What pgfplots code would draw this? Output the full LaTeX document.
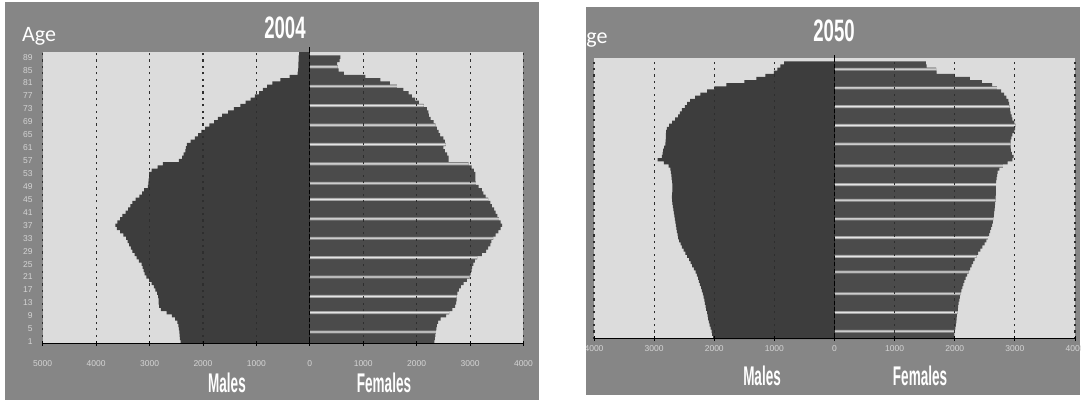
\documentclass[border=0pt]{standalone}
\usepackage{pgfplots}
\pgfplotsset{compat=1.18}
\usepackage{pgfplotstable}
\usepackage{fontspec}
\setmainfont{Liberation Sans}
\newfontfamily\titlefont[FakeStretch=0.6]{Liberation Sans}
\newfontfamily\sexfont[FakeStretch=0.5]{Liberation Sans}
\newfontfamily\agefont{Carlito}

\definecolor{framegray}{HTML}{868686}
\definecolor{plotbg}{HTML}{DCDCDC}
\definecolor{male}{HTML}{3D3D3D}
\definecolor{female}{HTML}{4B4B4B}
\definecolor{band}{HTML}{A3A3A3}
\definecolor{bandline}{HTML}{E4E4E4}
\definecolor{ticktext}{HTML}{D4D4D4}
\definecolor{gridc}{HTML}{2E2E2E}

% Population by single year of age (thousands); m = males (negative), f = females,
% s = 1 for the rows drawn as a light band
\pgfplotstableread{
age m f s
1 -2420 2330 0
2 -2430 2340 0
3 -2435 2350 0
4 -2440 2360 1
5 -2450 2370 0
6 -2460 2380 0
7 -2480 2400 0
8 -2520 2450 0
9 -2580 2550 0
10 -2680 2610 1
11 -2790 2670 0
12 -2820 2720 0
13 -2830 2740 0
14 -2830 2750 0
15 -2840 2750 1
16 -2860 2760 0
17 -2890 2790 0
18 -2920 2830 0
19 -2960 2880 0
20 -3010 2940 0
21 -3060 2990 1
22 -3090 3010 0
23 -3110 3030 0
24 -3130 3040 0
25 -3150 3060 0
26 -3200 3090 0
27 -3240 3130 1
28 -3280 3220 0
29 -3320 3300 0
30 -3350 3340 0
31 -3380 3380 0
32 -3410 3400 0
33 -3440 3430 1
34 -3490 3480 0
35 -3550 3530 0
36 -3610 3570 0
37 -3640 3600 0
38 -3600 3570 0
39 -3550 3540 1
40 -3510 3510 0
41 -3450 3480 0
42 -3400 3450 0
43 -3360 3410 0
44 -3320 3380 0
45 -3260 3340 1
46 -3190 3290 0
47 -3140 3250 0
48 -3100 3220 0
49 -3030 3160 0
50 -3020 3110 1
51 -3015 3100 0
52 -3010 3100 0
53 -3010 3100 0
54 -2960 3070 0
55 -2850 3030 0
56 -2750 2970 1
57 -2450 2600 0
58 -2390 2600 0
59 -2360 2570 0
60 -2330 2530 0
61 -2320 2500 0
62 -2300 2540 1
63 -2230 2530 0
64 -2150 2500 0
65 -2090 2440 0
66 -2030 2410 0
67 -1960 2380 0
68 -1880 2350 1
69 -1790 2320 0
70 -1720 2260 0
71 -1640 2230 0
72 -1530 2220 0
73 -1420 2190 0
74 -1300 2130 1
75 -1200 2040 0
76 -1110 1970 0
77 -1030 1910 0
78 -950 1850 0
79 -880 1750 0
80 -800 1630 1
81 -700 1500 0
82 -550 1320 0
83 -380 1040 0
84 -230 640 0
85 -220 540 0
86 -215 520 1
87 -215 510 0
88 -210 560 0
89 -210 570 0
90 -200 0 0
}\popA

\pgfplotstableread{
age m f s
1 -2020 1990 0
2 -2035 1995 0
3 -2045 2000 1
4 -2060 2010 0
5 -2075 2020 0
6 -2090 2025 0
7 -2100 2030 0
8 -2110 2036 0
9 -2120 2043 1
10 -2135 2050 0
11 -2145 2058 0
12 -2155 2066 0
13 -2165 2075 0
14 -2175 2085 0
15 -2190 2095 1
16 -2205 2110 0
17 -2220 2125 0
18 -2240 2145 0
19 -2255 2160 0
20 -2270 2180 0
21 -2290 2205 0
22 -2310 2230 1
23 -2340 2255 0
24 -2370 2280 0
25 -2395 2305 0
26 -2420 2330 0
27 -2450 2360 1
28 -2480 2390 0
29 -2510 2425 0
30 -2540 2460 0
31 -2560 2495 0
32 -2585 2525 0
33 -2600 2550 1
34 -2610 2572 0
35 -2620 2590 0
36 -2630 2605 0
37 -2640 2622 0
38 -2645 2632 0
39 -2655 2640 1
40 -2665 2650 0
41 -2670 2656 0
42 -2680 2662 0
43 -2690 2668 0
44 -2695 2672 0
45 -2700 2678 1
46 -2705 2680 0
47 -2700 2682 0
48 -2695 2682 0
49 -2695 2682 0
50 -2695 2685 1
51 -2700 2690 0
52 -2710 2695 0
53 -2715 2705 0
54 -2720 2715 0
55 -2730 2740 0
56 -2760 2800 1
57 -2840 2880 0
58 -2940 2960 0
59 -2870 2980 0
60 -2860 2950 0
61 -2850 2935 0
62 -2835 2930 0
63 -2815 2930 1
64 -2810 2930 0
65 -2805 2940 0
66 -2805 2960 0
67 -2800 2990 0
68 -2790 3005 0
69 -2750 3010 1
70 -2700 2990 0
71 -2650 2960 0
72 -2600 2945 0
73 -2570 2930 0
74 -2540 2920 0
75 -2490 2910 1
76 -2450 2905 0
77 -2400 2890 0
78 -2320 2860 0
79 -2230 2820 0
80 -2120 2770 0
81 -2000 2700 1
82 -1800 2620 0
83 -1500 2450 0
84 -1300 2250 0
85 -1150 2000 0
86 -1010 1700 0
87 -950 1690 1
88 -900 1530 0
89 -840 1520 0
90 0 0 0
}\popB

\pgfplotsset{
  pyramid/.style={
    scale only axis,
    ymin=0.5, ymax=90.5,
    axis background/.style={fill=plotbg},
    axis x line*=bottom, axis y line*=left,
    x axis line style={black, line width=1pt},
    y axis line style={draw=none},
    xmajorgrids,
    major grid style={gridc, line width=1.1pt, dash pattern=on 2.2pt off 4.2pt},
    axis on top,
    tick align=center,
    xtick style={black, line width=0.8pt},
    major tick length=5pt,
    ytick={1,5,...,89},
    ytick style={draw=none},
    tick label style={font=\fontsize{8.5}{9}\selectfont, text=ticktext},
    /pgf/number format/assume math mode=true,
    clip=false,
  },
  males/.style={xbar, bar width=1.04, bar shift=0pt, draw=none, fill=male},
  females/.style={xbar, bar width=1.04, bar shift=0pt, draw=none, fill=female},
  % light bands: rows with s = 0 collapse to zero length
  bands/.style={xbar, bar width=0.9, bar shift=0pt, draw=none, fill=band},
  bandlines/.style={xbar, bar width=0.28, bar shift=0pt, draw=none, fill=bandline},
}

\begin{document}
\begin{tikzpicture}
\useasboundingbox (0pt,0pt) rectangle (1086pt,403pt);
\fill[white] (0pt,0pt) rectangle (1086pt,403pt);

% ---- 2004 ----
\fill[framegray] (5pt,3pt) rectangle (539pt,401pt);
\begin{axis}[pyramid,
  at={(42.7pt,59.7pt)}, anchor=south west,
  width=480.8pt, height=291pt,
  xmin=-5000, xmax=4000,
  xtick={-5000,-4000,...,4000},
  xticklabels={5000,4000,3000,2000,1000,0,1000,2000,3000,4000},
  xticklabel style={yshift=-11pt},
  yticklabel style={xshift=-4pt},
]
\addplot[males] table[x=m, y=age] {\popA};
\addplot[females] table[x=f, y=age] {\popA};
\addplot[bands] table[x expr=\thisrow{f}*\thisrow{s}, y=age] {\popA};
\addplot[bandlines] table[x expr=\thisrow{f}*\thisrow{s}, y=age] {\popA};
\draw[black, line width=0.9pt] (axis cs:0,0.5) -- (axis cs:0,92);
\end{axis}
\node[text=white, inner sep=0pt, font=\titlefont\bfseries\fontsize{31}{31}\selectfont] at (285pt,375.5pt) {2004};
\node[text=white, anchor=base west, inner sep=0pt, font=\agefont\fontsize{22}{22}\selectfont] at (22pt,361pt) {Age};
\node[text=white, inner sep=0pt, font=\sexfont\bfseries\fontsize{27}{27}\selectfont] at (227pt,20pt) {Males};
\node[text=white, inner sep=0pt, font=\sexfont\bfseries\fontsize{27}{27}\selectfont] at (384pt,20pt) {Females};

% ---- 2050 ----
\begin{scope}
\clip (586pt,8pt) rectangle (1080pt,396pt);
\fill[framegray] (586pt,8pt) rectangle (1080pt,396pt);
\begin{axis}[pyramid,
  at={(594pt,64pt)}, anchor=south west,
  width=481pt, height=280.7pt,
  xmin=-4000, xmax=4000,
  xtick={-4000,-3000,...,4000},
  xticklabels={4000,3000,2000,1000,0,1000,2000,3000,4000},
  xticklabel style={yshift=-1pt},
  yticklabels={},
]
\addplot[males] table[x=m, y=age] {\popB};
\addplot[females] table[x=f, y=age] {\popB};
\addplot[bands] table[x expr=\thisrow{f}*\thisrow{s}, y=age] {\popB};
\addplot[bandlines] table[x expr=\thisrow{f}*\thisrow{s}, y=age] {\popB};
\draw[black, line width=0.9pt] (axis cs:0,0.5) -- (axis cs:0,91.5);
\end{axis}
\node[text=white, inner sep=0pt, font=\titlefont\bfseries\fontsize{31}{31}\selectfont] at (834pt,372pt) {2050};
\node[text=white, anchor=base west, inner sep=0pt, font=\agefont\fontsize{22}{22}\selectfont] at (573.5pt,359pt) {Age};
\node[text=white, inner sep=0pt, font=\sexfont\bfseries\fontsize{27}{27}\selectfont] at (762pt,27pt) {Males};
\node[text=white, inner sep=0pt, font=\sexfont\bfseries\fontsize{27}{27}\selectfont] at (920pt,27pt) {Females};
\end{scope}
\end{tikzpicture}
\end{document}
